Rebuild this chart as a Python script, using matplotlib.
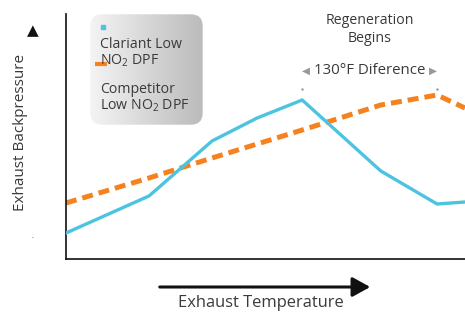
import matplotlib
matplotlib.use("Agg")
import matplotlib.pyplot as plt
import numpy as np
from matplotlib.patches import FancyBboxPatch, FancyArrowPatch

# ---------------------------------------------------------------------------
# Data (arbitrary units)
# ---------------------------------------------------------------------------
temperature = [0.0, 2.08, 3.66, 4.79, 5.92, 7.89, 9.30, 10.0]
clariant = [26, 63, 118, 141, 159, 88, 55, 57]
competitor = [56, 81, 101, 115, 129, 154, 164, 151]
regen_clariant = 5.92
regen_competitor = 9.30

series_labels = ["Clariant Low\n$\\mathregular{NO_2}$ DPF",
                 "Competitor\nLow $\\mathregular{NO_2}$ DPF"]
blue = "#4cc4e0"
orange = "#f5821f"
text_color = "#3a3a3a"

plt.rcParams["font.family"] = ["Open Sans", "DejaVu Sans"]

W, H = 465, 313
fig = plt.figure(figsize=(W / 100, H / 100), dpi=100)
ax = fig.add_axes([66 / W, 1 - 259 / H, (W - 66) / W, 245 / H])

ax.plot(temperature, clariant, color=blue, lw=2.4, solid_joinstyle="miter", zorder=3)
ax.plot(temperature, competitor, color=orange, lw=3.6, dashes=(2.2, 1.2), zorder=2)

ax.set_xlim(0, 10)
ax.set_ylim(0, 245)
ax.set_xticks([])
ax.set_yticks([])
for side in ("top", "right"):
    ax.spines[side].set_visible(False)
for side in ("left", "bottom"):
    ax.spines[side].set_linewidth(1.2)
    ax.spines[side].set_color("#111111")

# regeneration markers + annotation
for x in (regen_clariant, regen_competitor):
    ax.plot([x], [170], marker=".", ms=1.5, color="#999999")
mid = (regen_clariant + regen_competitor) / 2
ax.text(mid, 246, "Regeneration\nBegins", ha="center", va="top",
        fontsize=10.2, color=text_color, linespacing=1.25)
ax.text(mid, 188, "130°F Diference", ha="center", va="center",
        fontsize=10.8, color=text_color)
ax.text(regen_clariant, 188, "◀", ha="left", va="center", fontsize=7.5,
        color="#999999", family="DejaVu Sans")
ax.text(regen_competitor, 188, "▶", ha="right", va="center", fontsize=7.5,
        color="#999999", family="DejaVu Sans")

# legend box with gradient
lax = fig.add_axes([88 / W, 1 - 127 / H, 117 / W, 115 / H])
lax.set_xlim(0, 1)
lax.set_ylim(0, 1)
lax.axis("off")
grad = np.linspace(0.96, 0.73, 256).reshape(1, -1)
img = lax.imshow(np.dstack([grad, grad, grad]), extent=[0, 1, 0, 1],
                 aspect="auto", zorder=0)
box = FancyBboxPatch((0.02, 0.02), 0.96, 0.96,
                     boxstyle="round,pad=0,rounding_size=0.1",
                     transform=lax.transAxes, facecolor="none", edgecolor="none")
lax.add_patch(box)
img.set_clip_path(box)

lax.plot([0.13], [0.87], marker="s", ms=3.5, color=blue, transform=lax.transAxes)
lax.plot([0.11], [0.55], marker="_", ms=9, mew=3, color=orange,
         transform=lax.transAxes, zorder=3)
lax.text(0.10, 0.64, series_labels[0], va="center", ha="left", fontsize=10.2,
         color=text_color, linespacing=1.05, transform=lax.transAxes)
lax.text(0.10, 0.25, series_labels[1], va="center", ha="left", fontsize=10.2,
         color=text_color, linespacing=1.05, transform=lax.transAxes)

# axis labels with arrows
fig.text(20 / W, 1 - 132 / H, "Exhaust Backpressure", rotation=90,
         ha="center", va="center", fontsize=11, color=text_color)
fig.text(33 / W, 1 - 31 / H, "▲", ha="center", va="center", fontsize=11,
         color="#111111", family="DejaVu Sans")
fig.text(32 / W, 1 - 237 / H, ".", ha="center", va="center", fontsize=5,
         color="#333333")
fig.text(261 / W, 1 - 303 / H, "Exhaust Temperature", ha="center",
         va="center", fontsize=11.9, color=text_color)
fig.add_artist(FancyArrowPatch(
    (157 / W, 1 - 287 / H), (373 / W, 1 - 287 / H),
    transform=fig.transFigure, arrowstyle="-|>,head_length=4,head_width=2.2",
    mutation_scale=2.7, lw=2.2, color="#111111"))

fig.savefig("out.png", dpi=100)
